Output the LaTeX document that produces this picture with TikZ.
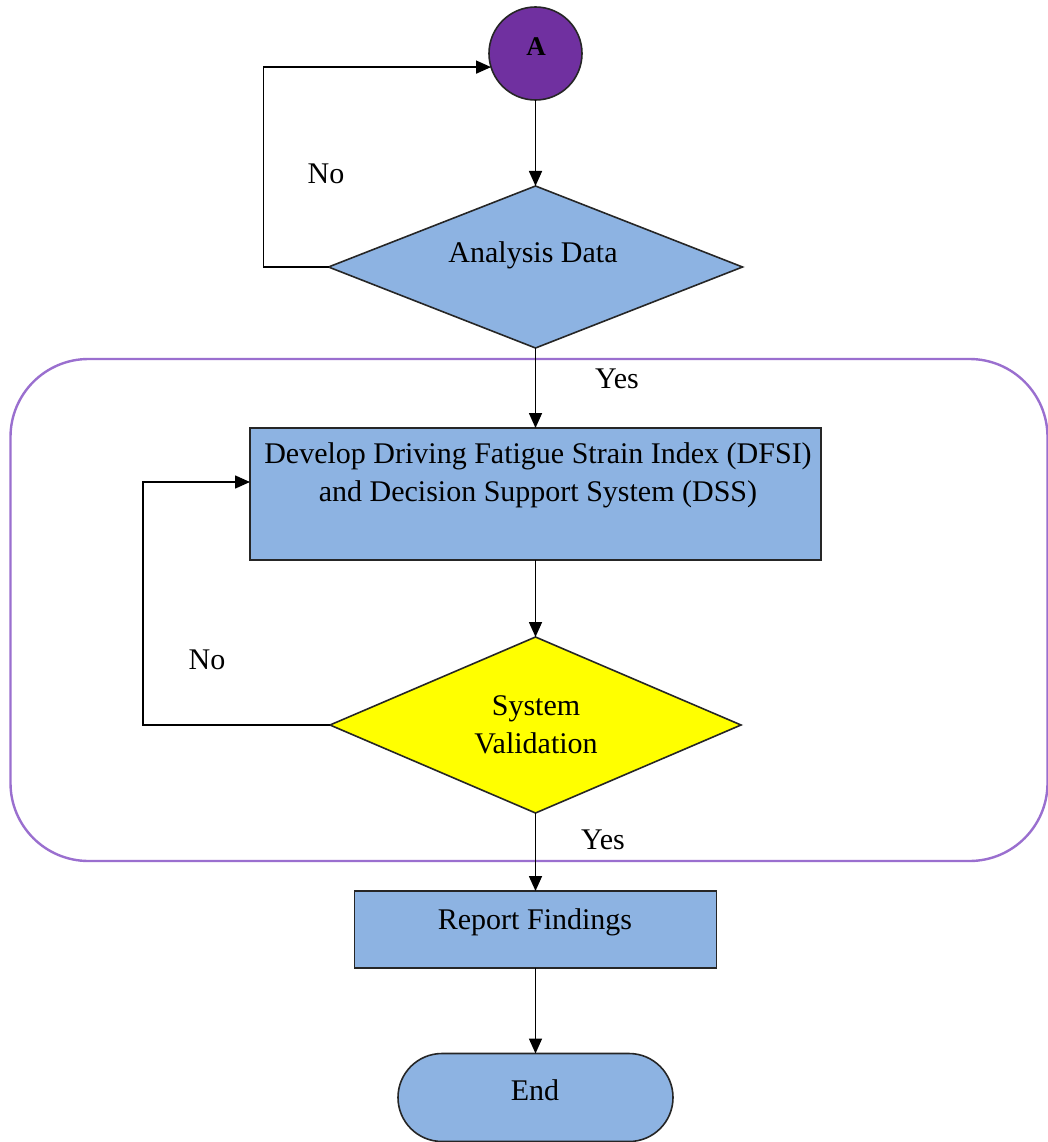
\documentclass[tikz,border=0pt]{standalone}
\usepackage{fontspec}
\setmainfont{Liberation Serif}
\usetikzlibrary{shapes.geometric,arrows.meta,calc}
\definecolor{boxblue}{HTML}{8DB3E2}
\definecolor{circpurple}{HTML}{7030A0}
\definecolor{frameviolet}{HTML}{9A6FCF}
\definecolor{dyellow}{HTML}{FFFF00}
\begin{document}
\begin{tikzpicture}[x=1pt,y=-1pt,
  every node/.style={inner sep=0pt,outer sep=0pt},
  shapeline/.style={draw=black!85,line width=1.6pt},
  blockbox/.style={shapeline,rectangle,fill=boxblue},
  decisionbox/.style={shapeline,diamond,fill=boxblue},
  txt/.style={font=\fontsize{30}{38}\selectfont,align=center,text=black},
  arr/.style={line width=1.6pt,-{Triangle[length=15pt,width=13pt]}},
  frame/.style={draw=frameviolet,line width=2.4pt,rounded corners=78pt}
]
\useasboundingbox (0,0) rectangle (1048,1142);
\fill[white] (0,0) rectangle (1048,1142);

% container frame
\draw[frame] (10.5,359) rectangle (1047.5,861);

% nodes
\node[shapeline,circle,fill=circpurple,minimum size=93pt] (A) at (535.5,53.5) {};
\node[font=\bfseries\fontsize{27}{30}\selectfont,text=black] (Atxt) at (536,47) {A};

\node[decisionbox,minimum width=414pt,minimum height=162pt] (d1) at (535.5,267) {};
\node[txt] (d1txt) at (533,255) {Analysis Data};

\node[blockbox,minimum width=571pt,minimum height=132pt] (r1) at (535.5,494) {};
\node[txt,font=\fontsize{30}{38}\selectfont] (r1txt) at (538,475) {Develop Driving Fatigue Strain Index (DFSI)\\and Decision Support System (DSS)};

\node[shapeline,diamond,fill=dyellow,minimum width=411pt,minimum height=176pt] (d2) at (535.5,725) {};
\node[txt] (d2txt) at (536,725) {System\\Validation};

\node[blockbox,minimum width=362pt,minimum height=77pt] (r2) at (535.5,929.5) {};
\node[txt] (r2txt) at (535,922) {Report Findings};

\node[shapeline,rectangle,rounded corners=44pt,fill=boxblue,minimum width=275pt,minimum height=88pt] (endn) at (535.5,1097.5) {};
\node[txt] (endtxt) at (535,1090) {End};

% labels
\node[txt] (no1) at (326,174) {No};
\node[txt] (yes1) at (617,379) {Yes};
\node[txt] (no2) at (207,660) {No};
\node[txt] (yes2) at (603,840) {Yes};

% connectors
\coordinate (r1in) at ($(r1.west)+(0,-12)$);
\draw[arr] (A.south) -- (d1.north);
\draw[arr] (d1.west) -- ++(-65,0) |- (A.197);
\draw[arr] (d1.south) -- (r1.north);
\draw[arr] (r1.south) -- (d2.north);
\draw[arr] (d2.west) -- ++(-187,0) |- (r1in);
\draw[arr] (d2.south) -- (r2.north);
\draw[arr] (r2.south) -- (endn.north);
\end{tikzpicture}
\end{document}
